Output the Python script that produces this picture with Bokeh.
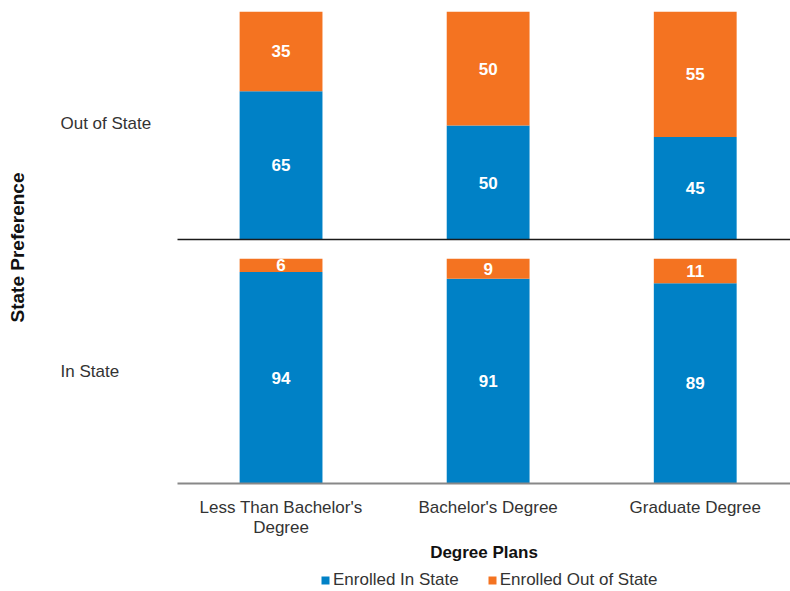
from bokeh.plotting import figure
from bokeh.layouts import row, column
from bokeh.models import (ColumnDataSource, FactorRange, Range1d, FixedTicker,
                          Legend, LegendItem, LabelSet, LinearAxis)
from bokeh.embed import file_html
from bokeh.resources import INLINE
from bokeh.core.properties import value

# ---- data ----
degrees = ["Less Than Bachelor's\nDegree", "Bachelor's Degree", "Graduate Degree"]
preferences = ["In State", "Out of State"]
series = ["Enrolled In State", "Enrolled Out of State"]

out_pref_in = [65, 50, 45]     # preference: Out of State, enrolled in state
out_pref_out = [35, 50, 55]    # preference: Out of State, enrolled out of state
in_pref_in = [94, 91, 89]      # preference: In State, enrolled in state
in_pref_out = [6, 9, 11]       # preference: In State, enrolled out of state

BLUE = "#0081C6"
ORANGE = "#F47321"
COLORS = [BLUE, ORANGE]
FONT = "Liberation Sans"
TXT = "#333333"

xs = [i + 0.5 for i in range(len(degrees))]
x_range = Range1d(0, 2.96)


def make_source(vin, vout):
    return ColumnDataSource(dict(
        x=xs, ins=vin, outs=vout,
        in_mid=[a / 2 for a in vin],
        out_mid=[a + b / 2 for a, b in zip(vin, vout)],
        in_lbl=[str(a) for a in vin],
        out_lbl=[str(b) for b in vout],
    ))


def panel(vin, vout, height, border_top, border_bottom, ticks):
    src = make_source(vin, vout)
    p = figure(width=613, height=height, x_range=x_range, y_range=Range1d(0, 100),
               output_backend="svg", toolbar_location=None,
               min_border_top=border_top, min_border_bottom=border_bottom,
               min_border_left=0, min_border_right=0)
    rs = p.vbar_stack(["ins", "outs"], x="x", width=0.4, color=COLORS,
                      line_color=None, source=src)
    for col, lbl in (("in_mid", "in_lbl"), ("out_mid", "out_lbl")):
        p.add_layout(LabelSet(x="x", y=col, text=lbl, source=src,
                              text_align="center", text_baseline="middle",
                              text_color="white", text_font=value(FONT),
                              text_font_size="17px", text_font_style="bold"))
    p.yaxis.visible = False
    p.xgrid.grid_line_color = None
    p.ygrid.grid_line_color = None
    p.outline_line_color = None
    p.xaxis.ticker = FixedTicker(ticks=ticks)
    p.xaxis.major_tick_line_color = None
    p.xaxis.minor_tick_line_color = None
    return p, rs


top, _ = panel(out_pref_in, out_pref_out, 255, 11, 16, [])
top.xaxis.major_label_standoff = 0
top.xaxis.axis_line_color = "#1a1a1a"
top.xaxis.axis_line_width = 1.5

bottom, _ = panel(in_pref_in, in_pref_out, 314, 3, 86, xs)
bottom.xaxis.major_label_overrides = {x: d for x, d in zip(xs, degrees)}
bottom.xaxis.major_label_text_font = FONT
bottom.xaxis.major_label_text_font_size = "17px"
bottom.xaxis.major_label_text_line_height = 1.1
bottom.xaxis.major_label_text_color = TXT
bottom.xaxis.major_label_standoff = 8
bottom.xaxis.axis_line_color = "#888888"
bottom.xaxis.axis_line_width = 2
bottom.xaxis.axis_label = "Degree Plans"
bottom.xaxis.axis_label_text_font = FONT
bottom.xaxis.axis_label_text_font_size = "17px"
bottom.xaxis.axis_label_text_font_style = "bold"
bottom.xaxis.axis_label_text_color = "#111111"
bottom.xaxis.axis_label_standoff = 3

# ---- legend strip (renderers hidden, only their legend swatches are shown) ----
leg = figure(width=613, height=21, x_range=Range1d(0, 1), y_range=Range1d(0, 1),
             output_backend="svg", toolbar_location=None, min_border=0)
leg_rs = leg.vbar_stack(["ins", "outs"], x="x", width=0.4, color=COLORS,
                        line_color=None, source=make_source(in_pref_in, in_pref_out))
for r in leg_rs:
    r.visible = False
leg.axis.visible = False
leg.grid.grid_line_color = None
leg.outline_line_color = None
legend = Legend(items=[LegendItem(label=s, renderers=[r]) for s, r in zip(series, leg_rs)],
                orientation="horizontal", location=(143, 0),
                label_text_font=FONT, label_text_font_size="17px", label_text_color=TXT,
                glyph_width=10, glyph_height=10, label_standoff=3, spacing=28,
                padding=0, margin=0, border_line_color=None, background_fill_alpha=0,
                inactive_fill_alpha=0)
leg.add_layout(legend)

# ---- left label column ----
left = figure(width=177, height=488, x_range=Range1d(0, 1),
              y_range=FactorRange(factors=preferences, factor_padding=0.1),
              output_backend="svg", toolbar_location=None,
              min_border_top=11, min_border_bottom=5, min_border_left=60, min_border_right=0)
left.text(x=[0] * len(preferences), y=preferences, text=preferences,
          text_align="left", text_baseline="middle", text_color=TXT,
          text_font=value(FONT), text_font_size="17px")
left.xaxis.visible = False
left.yaxis.visible = False
left.xgrid.grid_line_color = None
left.ygrid.grid_line_color = None
left.outline_line_color = None
title_axis = LinearAxis(ticker=FixedTicker(ticks=[]), axis_label="State Preference",
                        axis_line_color=None, major_tick_line_color=None,
                        minor_tick_line_color=None, major_label_standoff=0,
                        axis_label_text_font=FONT, axis_label_text_font_size="19px",
                        axis_label_text_font_style="bold", axis_label_text_color="#111111",
                        axis_label_standoff=33)
left.add_layout(title_axis, "left")

layout = row(left, column(top, bottom, leg))

open("out.html", "w").write(file_html(layout, INLINE))
